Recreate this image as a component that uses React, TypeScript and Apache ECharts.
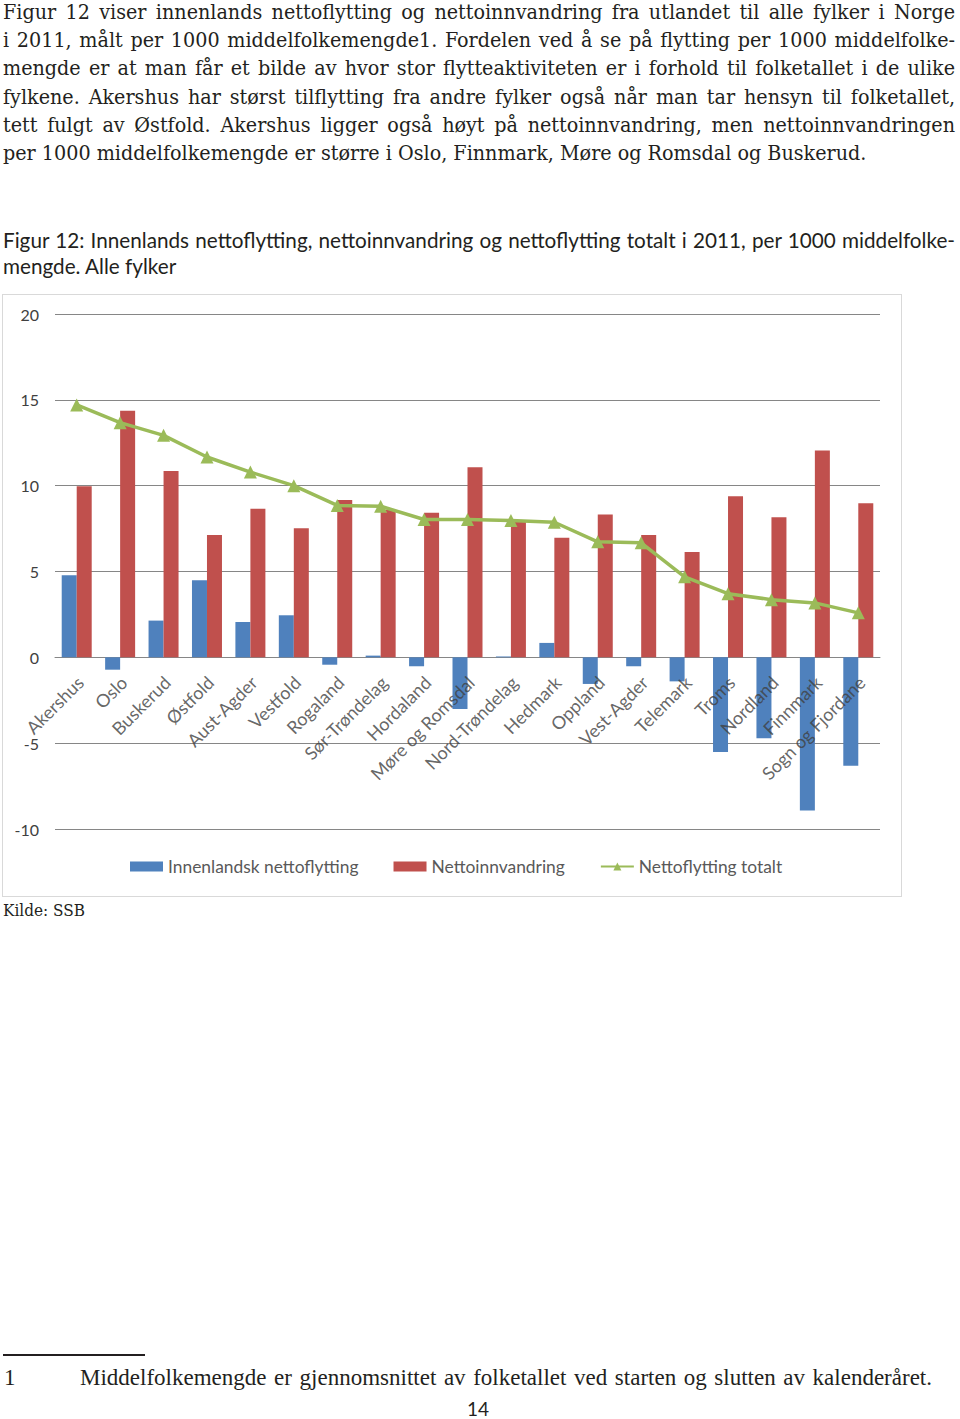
import React, { useEffect, useRef } from "react";
import * as echarts from "echarts";

const categories = [
  "Akershus", "Oslo", "Buskerud", "Østfold", "Aust-Agder", "Vestfold", "Rogaland",
  "Sør-Trøndelag", "Hordaland", "Møre og Romsdal", "Nord-Trøndelag", "Hedmark",
  "Oppland", "Vest-Agder", "Telemark", "Troms", "Nordland", "Finnmark", "Sogn og Fjordane",
];
const innenlandsk = [4.78, -0.72, 2.14, 4.49, 2.06, 2.45, -0.43, 0.1, -0.52, -3.01, 0.05, 0.84, -1.55, -0.52, -1.4, -5.52, -4.72, -8.92, -6.31];
const nettoinnvandring = [9.97, 14.37, 10.85, 7.12, 8.65, 7.52, 9.16, 8.6, 8.42, 11.08, 7.9, 6.96, 8.32, 7.12, 6.14, 9.39, 8.16, 12.05, 8.98];
const totalt = [14.7, 13.67, 12.93, 11.67, 10.79, 10.0, 8.85, 8.8, 8.03, 8.03, 7.97, 7.87, 6.73, 6.67, 4.69, 3.71, 3.36, 3.17, 2.59];
const seriesNames = ["Innenlandsk nettoflytting", "Nettoinnvandring", "Nettoflytting totalt"];
const yMin = -10;
const yMax = 20;
const yInterval = 5;

const paragraphLines = [
  "Figur 12 viser innenlands nettoflytting og nettoinnvandring fra utlandet til alle fylker i Norge",
  "i 2011, målt per 1000 middelfolkemengde1. Fordelen ved å se på flytting per 1000 middelfolke-",
  "mengde er at man får et bilde av hvor stor flytteaktiviteten er i forhold til folketallet i de ulike",
  "fylkene.  Akershus har størst tilflytting fra andre fylker også når man tar hensyn til folketallet,",
  "tett fulgt av Østfold. Akershus ligger også høyt på nettoinnvandring, men nettoinnvandringen",
  "per 1000 middelfolkemengde er større i Oslo, Finnmark, Møre og Romsdal og Buskerud.",
];
const captionLines = [
  "Figur 12: Innenlands nettoflytting, nettoinnvandring og nettoflytting totalt i 2011, per 1000 middelfolke-",
  "mengde. Alle fylker",
];
const sourceText = "Kilde: SSB";
const footnoteNumber = "1";
const footnoteText = "Middelfolkemengde er gjennomsnittet av folketallet ved starten og slutten av kalenderåret.";
const pageNumber = "14";

const SERIF = "'DejaVu Serif', serif";
const FOOT_SERIF = "'Liberation Serif', serif";
const SANS = "Lato, 'Open Sans', sans-serif";

function Chart() {
  const ref = useRef<HTMLDivElement>(null);
  useEffect(() => {
    if (!ref.current) return;
    const chart = echarts.init(ref.current, undefined, { renderer: "svg" });
    chart.setOption({
      animation: false,
      textStyle: { fontFamily: SANS },
      grid: { left: 52, right: 21, top: 19, bottom: 67, containLabel: false, outerBoundsMode: "none" },
      legend: {
        left: 127,
        top: 563,
        padding: 0,
        itemWidth: 33,
        itemHeight: 10,
        itemGap: 35,
        textStyle: { fontSize: 17.4, color: "#595959", fontFamily: SANS },
        data: [
          { name: seriesNames[0], icon: "rect" },
          { name: seriesNames[1], icon: "rect" },
          { name: seriesNames[2] },
        ],
      },
      xAxis: {
        type: "category",
        data: categories,
        axisLine: { onZero: true, lineStyle: { color: "#868686", width: 1 } },
        axisTick: { show: false },
        axisLabel: { show: false },
      },
      yAxis: {
        type: "value",
        min: yMin,
        max: yMax,
        interval: yInterval,
        axisLine: { show: false },
        axisTick: { show: false },
        axisLabel: { fontSize: 16, color: "#404040", margin: 16, fontFamily: SANS },
        splitLine: { lineStyle: { color: "#868686", width: 1 } },
      },
      series: [
        {
          name: seriesNames[0],
          type: "bar",
          data: innenlandsk,
          barWidth: 15,
          barGap: "0%",
          itemStyle: { color: "#4F81BD" },
        },
        {
          name: seriesNames[1],
          type: "bar",
          data: nettoinnvandring,
          barWidth: 15,
          barGap: "0%",
          itemStyle: { color: "#C0504D" },
        },
        {
          name: seriesNames[2],
          type: "line",
          data: totalt,
          symbol: "triangle",
          symbolSize: 13,
          lineStyle: { color: "#9BBB59", width: 3.5 },
          itemStyle: { color: "#9BBB59" },
          z: 5,
        },
        {
          name: "kategorier",
          type: "scatter",
          data: categories.map(() => 0),
          symbolSize: 1,
          silent: true,
          itemStyle: { color: "transparent" },
          label: {
            show: true,
            position: "inside",
            formatter: (p: any) => categories[p.dataIndex],
            rotate: 45,
            align: "right",
            verticalAlign: "middle",
            offset: [-13, 18],
            fontSize: 18,
            color: "#404040",
            fontFamily: SANS,
          },
          z: 6,
        },
      ],
    });
    return () => chart.dispose();
  }, []);
  return <div ref={ref} style={{ width: 898, height: 601 }} />;
}

export default function App() {
  useEffect(() => {
    document.body.style.margin = "0";
  }, []);
  return (
    <div style={{ position: "absolute", left: 0, top: 0, width: 960, height: 1419, background: "#fff", color: "#231f20", overflow: "hidden" }}>
      <div style={{ position: "absolute", left: 3, top: -2, width: 952, fontFamily: SERIF, fontStretch: "condensed", fontSize: 21.3, lineHeight: "28.2px" }}>
        {paragraphLines.map((l, i) => (
          <div key={i} style={{ textAlign: "justify", textAlignLast: i < paragraphLines.length - 1 ? "justify" : "left", height: 28.2, whiteSpace: "nowrap" }}>{l}</div>
        ))}
      </div>
      <div style={{ position: "absolute", left: 3, top: 227, width: 952, fontFamily: SANS, fontSize: 20.7, lineHeight: "26px" }}>
        {captionLines.map((l, i) => (
          <div key={i} style={{ textAlign: "justify", textAlignLast: i < captionLines.length - 1 ? "justify" : "left", height: 26, whiteSpace: "nowrap" }}>{l}</div>
        ))}
      </div>
      <div style={{ position: "absolute", left: 2, top: 294, border: "1px solid #d9d9d9" }}>
        <Chart />
      </div>
      <div style={{ position: "absolute", left: 3, top: 899, fontFamily: SERIF, fontStretch: "condensed", fontSize: 17, lineHeight: "22px" }}>{sourceText}</div>
      <div style={{ position: "absolute", left: 3, top: 1354, width: 142, height: 2, background: "#231f20" }} />
      <div style={{ position: "absolute", left: 4, top: 1364, fontFamily: FOOT_SERIF, fontSize: 23, lineHeight: "28px" }}>{footnoteNumber}</div>
      <div style={{ position: "absolute", left: 80, top: 1364, width: 852, fontFamily: FOOT_SERIF, fontSize: 23, lineHeight: "28px", textAlign: "justify", textAlignLast: "justify", whiteSpace: "nowrap" }}>{footnoteText}</div>
      <div style={{ position: "absolute", left: 0, top: 1401, width: 956, textAlign: "center", fontFamily: SANS, fontSize: 19, lineHeight: "16px" }}>{pageNumber}</div>
    </div>
  );
}
